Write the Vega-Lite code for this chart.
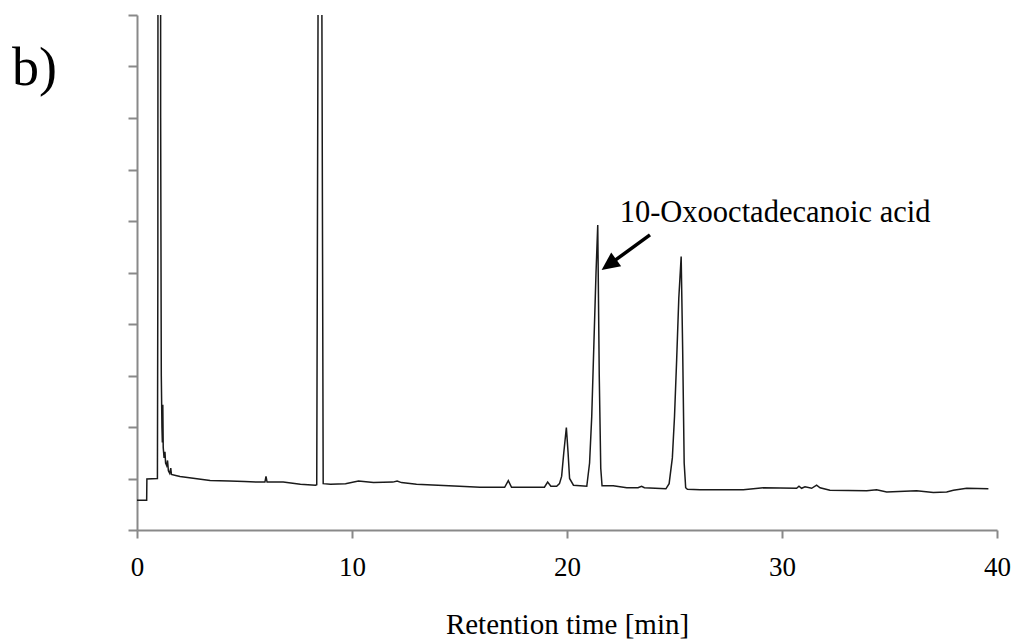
{
  "$schema": "https://vega.github.io/schema/vega-lite/v6.json",
  "width": 860,
  "height": 515,
  "autosize": {"type": "none"},
  "padding": {"left": 137, "top": 15, "right": 25, "bottom": 111},
  "background": "white",
  "config": {"view": {"stroke": null}},
  "datasets": {
    "trace": [
      {"t": 0, "s": 0.58}, {"t": 0.45, "s": 0.58}, {"t": 0.46, "s": 0.99}, {"t": 0.95, "s": 1.0},
      {"t": 0.97, "s": 5}, {"t": 1.0, "s": 40}, {"t": 1.08, "s": 40}, {"t": 1.1, "s": 8},
      {"t": 1.13, "s": 3}, {"t": 1.16, "s": 2.0}, {"t": 1.18, "s": 1.7}, {"t": 1.2, "s": 2.43},
      {"t": 1.22, "s": 1.6}, {"t": 1.26, "s": 1.4}, {"t": 1.3, "s": 1.52}, {"t": 1.33, "s": 1.3},
      {"t": 1.38, "s": 1.25}, {"t": 1.42, "s": 1.35}, {"t": 1.46, "s": 1.15}, {"t": 1.52, "s": 1.1},
      {"t": 1.57, "s": 1.2}, {"t": 1.6, "s": 1.08}, {"t": 1.8, "s": 1.06}, {"t": 2.0, "s": 1.04},
      {"t": 2.7, "s": 1.0}, {"t": 3.4, "s": 0.96}, {"t": 4.3, "s": 0.95}, {"t": 5.0, "s": 0.94},
      {"t": 5.57, "s": 0.93}, {"t": 5.95, "s": 0.93}, {"t": 6.0, "s": 1.04}, {"t": 6.05, "s": 0.93},
      {"t": 6.8, "s": 0.93}, {"t": 7.6, "s": 0.89}, {"t": 8.3, "s": 0.87}, {"t": 8.36, "s": 0.88},
      {"t": 8.42, "s": 10}, {"t": 8.47, "s": 40}, {"t": 8.55, "s": 40}, {"t": 8.6, "s": 10},
      {"t": 8.66, "s": 0.9}, {"t": 9.0, "s": 0.89}, {"t": 9.7, "s": 0.9}, {"t": 10.3, "s": 0.95},
      {"t": 11.0, "s": 0.92}, {"t": 11.9, "s": 0.93}, {"t": 12.1, "s": 0.95}, {"t": 12.3, "s": 0.92},
      {"t": 13.0, "s": 0.89}, {"t": 14.0, "s": 0.87}, {"t": 15.0, "s": 0.85}, {"t": 15.95, "s": 0.83},
      {"t": 17.1, "s": 0.83}, {"t": 17.27, "s": 0.96}, {"t": 17.42, "s": 0.83}, {"t": 18.28, "s": 0.83},
      {"t": 18.95, "s": 0.83}, {"t": 19.1, "s": 0.93}, {"t": 19.25, "s": 0.85}, {"t": 19.52, "s": 0.85},
      {"t": 19.65, "s": 0.9}, {"t": 19.75, "s": 1.04}, {"t": 19.85, "s": 1.5}, {"t": 19.97, "s": 1.99},
      {"t": 20.05, "s": 1.5}, {"t": 20.12, "s": 1.0}, {"t": 20.3, "s": 0.87}, {"t": 20.92, "s": 0.85},
      {"t": 21.05, "s": 1.3}, {"t": 21.15, "s": 2.2}, {"t": 21.25, "s": 3.6}, {"t": 21.35, "s": 5.0},
      {"t": 21.43, "s": 5.92}, {"t": 21.5, "s": 3.0}, {"t": 21.57, "s": 1.2}, {"t": 21.63, "s": 0.86},
      {"t": 22.15, "s": 0.86}, {"t": 22.78, "s": 0.82}, {"t": 23.3, "s": 0.82}, {"t": 23.47, "s": 0.85},
      {"t": 23.6, "s": 0.82}, {"t": 24.6, "s": 0.8}, {"t": 24.75, "s": 0.9}, {"t": 24.9, "s": 1.4},
      {"t": 25.0, "s": 2.2}, {"t": 25.1, "s": 3.3}, {"t": 25.2, "s": 4.5}, {"t": 25.31, "s": 5.31},
      {"t": 25.38, "s": 3.5}, {"t": 25.45, "s": 1.3}, {"t": 25.52, "s": 0.82}, {"t": 25.6, "s": 0.79},
      {"t": 26.19, "s": 0.78}, {"t": 28.2, "s": 0.78}, {"t": 29.13, "s": 0.82}, {"t": 30.68, "s": 0.81},
      {"t": 30.79, "s": 0.85}, {"t": 30.91, "s": 0.81}, {"t": 31.07, "s": 0.84}, {"t": 31.38, "s": 0.81},
      {"t": 31.61, "s": 0.87}, {"t": 31.77, "s": 0.82}, {"t": 32.23, "s": 0.77}, {"t": 33.94, "s": 0.76},
      {"t": 34.4, "s": 0.78}, {"t": 34.87, "s": 0.74}, {"t": 36.26, "s": 0.76}, {"t": 37.04, "s": 0.73},
      {"t": 37.66, "s": 0.74}, {"t": 37.97, "s": 0.77}, {"t": 38.59, "s": 0.81}, {"t": 39.6, "s": 0.8}
    ],
    "labels": [
      {"t": 22.45, "s": 5.98, "label": "10-Oxooctadecanoic acid", "size": 30.5},
      {"t": -5.81, "s": 8.64, "label": "b)", "size": 54}
    ],
    "arrow": [
      {"t": 23.86, "s": 5.73, "t2": 22.18, "s2": 5.22, "tipT": 21.61, "tipS": 5.05}
    ]
  },
  "layer": [
    {
      "data": {"name": "trace"},
      "mark": {"type": "line", "clip": true, "color": "#1a1a1a", "strokeWidth": 1.5, "interpolate": "linear"},
      "encoding": {
        "x": {
          "field": "t", "type": "quantitative",
          "scale": {"domain": [0, 40], "nice": false, "zero": false},
          "axis": {
            "values": [0, 10, 20, 30, 40],
            "title": "Retention time [min]",
            "grid": false,
            "labelFlush": false,
            "labelFont": "Liberation Serif", "labelFontSize": 27, "labelColor": "#000000",
            "labelBaseline": "alphabetic", "labelPadding": 37,
            "titleFont": "Liberation Serif", "titleFontSize": 29, "titleFontWeight": "normal",
            "titleColor": "#000000", "titleBaseline": "alphabetic", "titleY": 103,
            "domainColor": "#898989", "domainWidth": 2,
            "tickColor": "#898989", "tickWidth": 2, "tickSize": 8
          }
        },
        "y": {
          "field": "s", "type": "quantitative",
          "scale": {"domain": [0, 10], "nice": false, "zero": false},
          "axis": {
            "values": [0, 1, 2, 3, 4, 5, 6, 7, 8, 9, 10],
            "labels": false, "title": null, "grid": false,
            "domainColor": "#898989", "domainWidth": 2,
            "tickColor": "#898989", "tickWidth": 2, "tickSize": 9
          }
        }
      }
    },
    {
      "data": {"name": "labels"},
      "mark": {"type": "text", "font": "Liberation Serif", "align": "left", "baseline": "alphabetic", "color": "#000000"},
      "encoding": {
        "x": {"field": "t", "type": "quantitative"},
        "y": {"field": "s", "type": "quantitative"},
        "text": {"field": "label"},
        "size": {"field": "size", "type": "quantitative", "scale": null}
      }
    },
    {
      "data": {"name": "arrow"},
      "mark": {"type": "rule", "color": "#000000", "strokeWidth": 3.5},
      "encoding": {
        "x": {"field": "t", "type": "quantitative"},
        "y": {"field": "s", "type": "quantitative"},
        "x2": {"field": "t2"},
        "y2": {"field": "s2"}
      }
    },
    {
      "data": {"name": "arrow"},
      "mark": {"type": "point", "shape": "M0,0L-0.47,1L0.47,1Z", "filled": true, "color": "#000000", "opacity": 1, "size": 1296, "angle": 234},
      "encoding": {
        "x": {"field": "tipT", "type": "quantitative"},
        "y": {"field": "tipS", "type": "quantitative"}
      }
    }
  ]
}
